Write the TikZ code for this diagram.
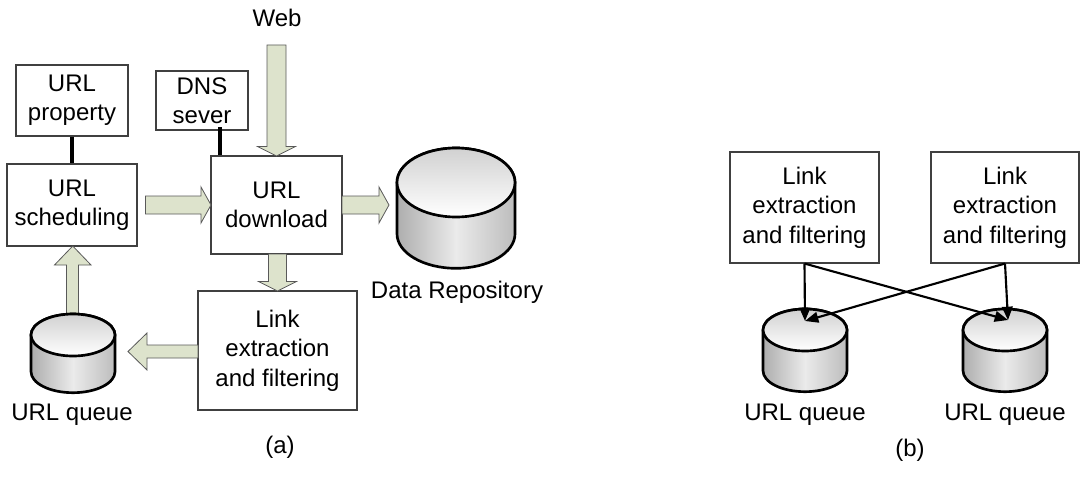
\documentclass[tikz,border=0pt]{standalone}
\usepackage{fontspec}
\setmainfont{Liberation Sans}
\usetikzlibrary{arrows.meta,calc}
\definecolor{arrowfill}{RGB}{221,227,204}
\definecolor{boxline}{RGB}{64,64,64}
\newcommand\mycyl[5]{% cx, ytop centre, ybot centre, rx, ry  (px)
  \shade[cylside] (#1-#4,-#3) arc[start angle=180,end angle=360,x radius=#4*0.75pt,y radius=#5*0.75pt]
     -- (#1+#4,-#2) arc[start angle=0,end angle=180,x radius=#4*0.75pt,y radius=#5*0.75pt] -- cycle;
  \shade[cyltop] (#1,-#2) ellipse[x radius=#4*0.75pt, y radius=#5*0.75pt];
}
\begin{document}
\begin{tikzpicture}[x=0.75pt,y=0.75pt, font=\fontsize{18}{22}\selectfont,
  box/.style={draw=boxline, line width=0.8pt, fill=white, align=center, inner sep=0pt},
  blockarrow/.style={fill=arrowfill, draw=black!65, line width=0.6pt, line join=miter},
  cylside/.style={draw=black, line width=2pt, left color=black!32, right color=black!26, middle color=black!8},
  cyltop/.style={draw=black, line width=2pt, top color=black!18, bottom color=white},
  thickline/.style={line width=3pt, draw=black},
  link/.style={line width=1.6pt, -{Triangle[length=10pt,width=8pt]}},
  lbl/.style={inner sep=0pt}]
\useasboundingbox (0,0) rectangle (1080,-478);

% ---------- (a) ----------
\node[box, minimum width=84pt, minimum height=53.25pt] (prop) at (72,-100.5) {URL\\property};
\node[box, minimum width=69pt, minimum height=44.25pt] (dns) at (202,-100.5) {DNS\\sever};
\node[box, minimum width=97.5pt, minimum height=61.5pt] (sched) at (72,-205) {URL\\scheduling};
\node[box, minimum width=98.25pt, minimum height=73.5pt] (down) at (276.5,-205) {URL\\download};
\node[box, minimum width=119.25pt, minimum height=89.25pt] (linka) at (277.5,-350.5) {Link\\extraction\\and filtering};

\node[lbl] (web) at (277,-18) {Web};
\node[lbl] (repolbl) at (457,-292) {Data Repository};
\node[lbl] (qlbl) at (72,-415) {URL queue};
\node[lbl] (capa) at (280,-447) {(a)};

% block arrows
\draw[blockarrow] (267,-45) -- (286,-45) -- (286,-146.5) -- (295.5,-146.5) -- (276.5,-156) -- (257.5,-146.5) -- (267,-146.5) -- cycle;
\draw[blockarrow] (145.5,-196) -- (201,-196) -- (201,-187) -- (211,-205) -- (201,-223) -- (201,-214) -- (145.5,-214) -- cycle;
\draw[blockarrow] (342,-196) -- (379,-196) -- (379,-187) -- (389,-205) -- (379,-223) -- (379,-214) -- (342,-214) -- cycle;
\draw[blockarrow] (268.5,-254) -- (286.5,-254) -- (286.5,-281.5) -- (296.5,-281.5) -- (277.5,-291) -- (258.5,-281.5) -- (268.5,-281.5) -- cycle;
\draw[blockarrow] (198,-345) -- (147,-345) -- (147,-333) -- (128,-351.5) -- (147,-370) -- (147,-358) -- (198,-358) -- cycle;
\draw[blockarrow] (66.5,-318) -- (66.5,-265) -- (54.5,-265) -- (72.75,-246) -- (91,-265) -- (78.5,-265) -- (78.5,-318) -- cycle;

% thick connectors
\draw[thickline] (prop.south) -- (sched.north);
\coordinate (dnsfoot) at (220,-127);
\draw[thickline] (dnsfoot) -- (dnsfoot |- down.north);

% cylinders
\mycyl{73}{335}{371.7}{42}{21}
\mycyl{456}{182.5}{233.8}{59}{34.5}

% ---------- (b) ----------
\node[box, minimum width=111.75pt, minimum height=83.25pt] (lb1) at (804.5,-207.5) {Link\\extraction\\and filtering};
\node[box, minimum width=111pt, minimum height=83.25pt] (lb2) at (1005,-207.5) {Link\\extraction\\and filtering};

\mycyl{805}{330}{370.7}{42}{21}
\mycyl{1005}{330}{370.7}{42}{21}

\coordinate (q1in) at (805,-321);
\coordinate (q2in) at (1008,-320);
\draw[link] (lb1.south) -- (q1in);
\draw[link] (lb1.south) -- (q2in);
\draw[link] (lb2.south) -- (q2in);
\draw[link] (lb2.south) -- (q1in);

\node[lbl] (q1lbl) at (805,-415) {URL queue};
\node[lbl] (q2lbl) at (1005,-415) {URL queue};
\node[lbl] (capb) at (910,-450) {(b)};
\end{tikzpicture}
\end{document}
